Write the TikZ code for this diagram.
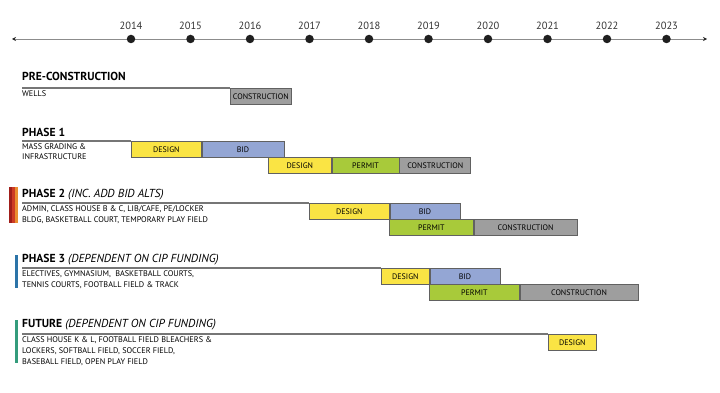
\documentclass[tikz,border=0pt]{standalone}
\usepackage{fontspec}
\setmainfont{PT Sans}
\usetikzlibrary{arrows.meta,positioning}
\definecolor{tldesign}{RGB}{250,228,68}
\definecolor{tlbid}{RGB}{148,166,212}
\definecolor{tlpermit}{RGB}{168,202,58}
\definecolor{tlbuild}{RGB}{158,158,158}
\definecolor{tlrule}{RGB}{118,118,118}
\definecolor{tlred}{RGB}{160,30,26}
\definecolor{tlredb}{RGB}{205,60,36}
\definecolor{tlorange}{RGB}{234,142,48}
\definecolor{tlblue}{RGB}{44,116,168}
\definecolor{tlteal}{RGB}{52,156,124}

\begin{document}
\begin{tikzpicture}[
  x=1pt, y=-1pt,
  dot/.style={
    circle,
    fill=black!88,
    minimum size=8.5pt,
    inner sep=0pt
  },
  year/.style={
    font=\fontsize{10.5}{12}\selectfont,
    text=black!80,
    inner sep=1pt
  },
  title/.style={
    anchor=base west,
    inner sep=0pt,
    font=\fontsize{11.6}{13}\selectfont
  },
  scope/.style={
    anchor=base west,
    align=left,
    inner sep=0pt,
    font=\fontsize{8.2}{10.7}\selectfont
  },
  stage/.style={
    draw=black!62,
    line width=0.7pt,
    anchor=north west,
    minimum height=16pt,
    inner sep=0pt,
    font=\fontsize{8}{9}\selectfont
  },
  design/.style={stage, fill=tldesign},
  bid/.style={stage, fill=tlbid},
  permit/.style={stage, fill=tlpermit},
  build/.style={stage, fill=tlbuild},
  rule/.style={
    tlrule,
    line width=1.1pt
  },
  arr/.style={
    {Stealth[length=4pt,width=4pt,black!85]}-{Stealth[length=4pt,width=4pt,black!85]},
    black!45,
    line width=0.8pt
  }
]
\useasboundingbox (0,0) rectangle (720,393);

% timeline
\coordinate (tl-l) at (12,39);
\coordinate (tl-r) at (707,39);
\draw[arr] (tl-l) -- (tl-r);

\foreach \yr [count=\i from 0] in {2014,...,2023}
{
  \node[dot] (y\yr) at (131+59.5*\i,39) {};
  \node[year, above=3.5pt of y\yr] (l\yr) {\yr};
}

% pre-construction
\node[title] (pre) at (22,81) {\bfseries PRE-CONSTRUCTION};
\node[scope] (pre-txt) at (22,97) {WELLS};
\node[build, minimum width=61pt] (pre-con) at (230,88) {CONSTRUCTION};
\coordinate (pre-l) at (22,88);
\draw[rule] (pre-l) -- (pre-con.north west);

% phase 1
\node[title] (ph1) at (22,136) {\bfseries PHASE 1};
\node[scope] (ph1-txt) at (22,160) {MASS GRADING \&\\ INFRASTRUCTURE};
\coordinate (ph1-l) at (22,141);
\draw[rule] (ph1-l) -- (131,141);
\node[design, minimum width=70pt] (ph1-des) at (131,141) {DESIGN};
\node[bid, minimum width=82pt, right=0pt of ph1-des] (ph1-bid) {BID};
\node[design, minimum width=63pt] (ph1-des2) at (268,157) {DESIGN};
\node[permit, minimum width=67pt, right=0pt of ph1-des2] (ph1-per) {PERMIT};
\node[build, minimum width=71pt, right=0pt of ph1-per] (ph1-con) {CONSTRUCTION};

% phase 2
\fill[tlred] (9,187) rectangle (12,223);
\fill[tlredb] (12,187) rectangle (14.5,223);
\fill[tlorange] (14.5,187) rectangle (18,223);
\node[title] (ph2) at (22,197) {\textbf{PHASE 2} \textit{(INC. ADD BID ALTS)}};
\node[scope] (ph2-txt) at (22,222)
{ADMIN, CLASS HOUSE B \& C, LIB/CAFE, PE/LOCKER\\ BLDG, BASKETBALL COURT, TEMPORARY PLAY FIELD};
\coordinate (ph2-l) at (22,203);
\node[design, minimum width=80pt] (ph2-des) at (309,203) {DESIGN};
\node[bid, minimum width=70pt, right=0pt of ph2-des] (ph2-bid) {BID};
\node[permit, minimum width=84pt] (ph2-per) at (389,219) {PERMIT};
\node[build, minimum width=103pt, right=0pt of ph2-per] (ph2-con) {CONSTRUCTION};
\draw[rule] (ph2-l) -- (ph2-des.north west);

% phase 3
\fill[tlblue] (15,255) rectangle (18,288);
\node[title] (ph3) at (22,262) {\textbf{PHASE 3} \textit{(DEPENDENT ON CIP FUNDING)}};
\node[scope] (ph3-txt) at (22,287)
{ELECTIVES, GYMNASIUM,\ \ BASKETBALL COURTS,\\ TENNIS COURTS, FOOTBALL FIELD \& TRACK};
\coordinate (ph3-l) at (22,268);
\node[design, minimum width=48pt] (ph3-des) at (381,268) {DESIGN};
\node[bid, minimum width=70pt, right=0pt of ph3-des] (ph3-bid) {BID};
\node[permit, minimum width=90pt] (ph3-per) at (429,284) {PERMIT};
\node[build, minimum width=118pt, right=0pt of ph3-per] (ph3-con) {CONSTRUCTION};
\draw[rule] (ph3-l) -- (ph3-des.north west);

% future
\fill[tlteal] (15,320) rectangle (18,363);
\node[title] (fut) at (22,327) {\textbf{FUTURE} \textit{(DEPENDENT ON CIP FUNDING)}};
\node[scope] (fut-txt) at (22,364)
{CLASS HOUSE K \& L, FOOTBALL FIELD BLEACHERS \&\\ LOCKERS, SOFTBALL FIELD, SOCCER FIELD,\\ BASEBALL FIELD, OPEN PLAY FIELD};
\coordinate (fut-l) at (22,334);
\node[design, minimum width=48pt] (fut-des) at (548,334) {DESIGN};
\draw[rule] (fut-l) -- (fut-des.north west);

\end{tikzpicture}
\end{document}
